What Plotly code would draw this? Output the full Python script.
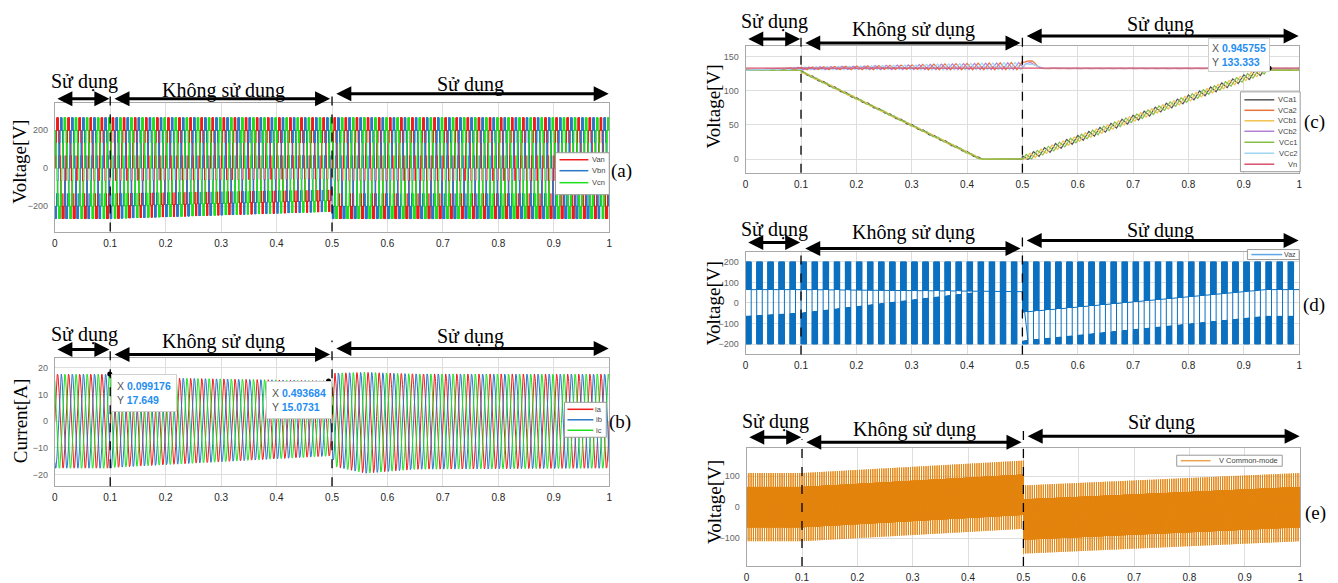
import numpy as np
import plotly.graph_objects as go

W, H = 1338, 583

# ---------------- shared data ----------------
F0 = 50.0                      # fundamental frequency [Hz]
X_TICKS = [0, 0.1, 0.2, 0.3, 0.4, 0.5, 0.6, 0.7, 0.8, 0.9, 1.0]
X_TICK_LABELS = ["0", "0.1", "0.2", "0.3", "0.4", "0.5", "0.6", "0.7", "0.8", "0.9", "1"]
SEGMENT_LABELS = ["Sử dụng", "Không sử dụng", "Sử dụng"]
BOUNDARIES = [0.1, 0.5]
PANEL_TAGS = ["(a)", "(b)", "(c)", "(d)", "(e)"]
Y_TITLES = ["Voltage[V]", "Current[A]", "Voltage[V]", "Voltage[V]", "Voltage[V]"]

# ---------------- (a) phase voltages ----------------
A_NAMES = ["Van", "Vbn", "Vcn"]
A_PHASE_DEG = [0, -120, 120]
A_T = [0.0, 0.1, 0.5, 0.5001, 1.0]
A_AMP = [235, 235, 228, 245, 235]
A_NEG_SCALE = [1.0, 1.0, 0.86, 1.0, 1.0]
A_LEVEL_STEP = 66.7
A_CARRIER_HZ = 1500
A_YTICKS = [-200, 0, 200]
A_YRANGE = [-335, 345]

# ---------------- (b) phase currents ----------------
B_NAMES = ["ia", "ib", "ic"]
B_PHASE_DEG = [0, -120, 120]
B_T = [0.0, 0.1, 0.11, 0.5, 0.505, 0.56, 0.65, 1.0]
B_TOP = [17.6, 17.6, 16.5, 15.1, 18.0, 18.3, 17.7, 17.6]
B_BOT = [-17.6, -17.6, -17.3, -13.0, -17.0, -19.5, -18.0, -17.6]
B_TIP_X = [0.099176, 0.493684]
B_TIP_Y = [17.649, 15.0731]
B_YTICKS = [-20, -10, 0, 10, 20]
B_YRANGE = [-24.3, 23.5]

# ---------------- (c) capacitor voltages ----------------
C_NAMES = ["VCa1", "VCa2", "VCb1", "VCb2", "VCc1", "VCc2", "Vn"]
C_T_LOW = [0.0, 0.1, 0.43, 0.5, 0.94, 1.0]
C_LOW_LEVEL = [130.5, 130.5, 0.0, 0.0, 130.5, 130.5]     # VCa1, VCb1, VCc1
C_T_HIGH = [0.0, 0.1, 0.5, 0.505, 0.52, 0.535, 1.0]
C_HIGH_LEVEL = [130.5, 133.0, 136.5, 139.0, 139.0, 133.0, 133.0]  # VCa2, VCb2, VCc2
C_HIGH_RIPPLE = [0.5, 2.5, 5.5, 1.0, 1.0, 0.4, 0.4]
C_BUMP = [6.0, 2.0, 0.0]          # extra rise just after 0.5 for VCa2, VCb2, VCc2
C_PHASE = [0.0, 1 / 3, 2 / 3]
C_VN = 133.3
C_TIP = [0.945755, 133.333]
C_YTICKS = [0, 50, 100, 150]
C_YRANGE = [-20, 166]

# ---------------- (d) Vaz ----------------
D_NAME = "Vaz"
D_T = [0.0, 0.1, 0.43, 0.5, 0.5001, 0.94, 1.0]
D_HI = [65, 65, 57, 55, -45, 65, 65]
D_LO = [-65, -50, 55, 55, -185, -65, -65]
D_PEAK = 200
D_YTICKS = [-200, -100, 0, 100, 200]
D_YRANGE = [-250, 250]

# ---------------- (e) common-mode voltage ----------------
E_NAME = "V Common-mode"
E_T = [0.0, 0.1, 0.5, 0.5001, 1.0]
E_OFFSET = [0, 0, 40, -40, 0]
E_CORE = 65
E_PEAK = 110
E_YTICKS = [-100, 0, 100]
E_YRANGE = [-190, 190]

# ---------------- styling / layout (pixels) ----------------
A_COLORS = ["#f01c1c", "#2a78c8", "#1ee01e"]
B_COLORS = ["#f01c1c", "#2a78c8", "#1ee01e"]
C_COLORS = ["#555555", "#e8743b", "#f2c14e", "#b47fd6", "#86be48", "#9fd6f2", "#d9506a"]
D_COLOR = "#0a70bf"
E_COLOR = "#e38510"
SERIF = "Liberation Serif"
SANS = "Liberation Sans"

FRAMES = {  # x0, x1, ytop, ybottom (pixels)
    1: (52, 609, 103, 232),
    2: (52, 609, 359, 487),
    3: (746, 1302, 46, 173),
    4: (746, 1302, 252, 355),
    5: (747, 1303, 449, 567),
}


def px(x):
    return x / W


def py(y):
    return 1 - y / H


def pyd(i, y):
    """pixel y -> 'y domain' coordinate of panel i"""
    _, _, yt, yb = FRAMES[i]
    return (yb - y) / (yb - yt)


# ---------------- build signals ----------------
t_a = np.arange(0, 1.0 + 1e-9, 1 / 20000)
amp_a = np.interp(t_a, A_T, A_AMP)
neg_a = np.interp(t_a, A_T, A_NEG_SCALE)
carrier = np.abs(((t_a * A_CARRIER_HZ) % 1.0) * 2 - 1)
A_SIG = []
for ph in A_PHASE_DEG:
    ref = amp_a * np.sin(2 * np.pi * F0 * t_a + np.radians(ph))
    q = ref / A_LEVEL_STEP
    lvl = np.floor(q)
    out = (lvl + ((q - lvl) > carrier)) * A_LEVEL_STEP
    out = np.where(out < 0, out * neg_a, out)
    A_SIG.append(out)

t_b = np.arange(0, 1.0 + 1e-9, 0.0004)
top_b = np.interp(t_b, B_T, B_TOP)
bot_b = np.interp(t_b, B_T, B_BOT)
B_SIG = [(top_b + bot_b) / 2 + (top_b - bot_b) / 2 * np.sin(2 * np.pi * F0 * t_b + np.radians(ph))
         for ph in B_PHASE_DEG]

t_c = np.arange(0, 1.0 + 1e-9, 0.0004)
P = 1 / F0
low_base = np.interp(t_c, C_T_LOW, C_LOW_LEVEL)
high_base = np.interp(t_c, C_T_HIGH, C_HIGH_LEVEL)
high_rip = np.interp(t_c, C_T_HIGH, C_HIGH_RIPPLE)
slope = C_LOW_LEVEL[1] / (C_T_LOW[2] - C_T_LOW[1])
C_SIG = {}
for i, ph in enumerate(C_PHASE):
    u = (t_c / P + ph) % 1.0
    tri = 2 * np.abs(u - 0.5) - 0.5
    g = np.minimum(u / 0.5, 1.0)
    dis = (t_c > 0.1) & (t_c < 0.43)
    chg = (t_c >= 0.5) & (t_c < 0.94)
    low = low_base.copy()
    low = np.where(dis, low + slope * P * (u - g), low)
    low = np.where(chg, low + 10 * tri, low)
    low = np.where((t_c <= 0.1) | (t_c >= 0.94), low + 1.0 * tri, low)
    low = np.maximum(low, -0.5)
    bump = C_BUMP[i] * np.exp(-((t_c - 0.512) / 0.01) ** 2)
    high = high_base + high_rip * 2 * tri + bump
    C_SIG["low%d" % i] = low
    C_SIG["high%d" % i] = high
C_ORDER = [C_SIG["low0"], C_SIG["high0"], C_SIG["low1"], C_SIG["high1"],
           C_SIG["low2"], C_SIG["high2"], np.full_like(t_c, C_VN)]

# (d) switching blocks separated by gaps (None)
dx, dy = [], []
sw = 0.00025
for k in range(int(round(1.0 * F0))):
    t0 = k * P
    tb = np.arange(t0, t0 + 0.5 * P + 1e-9, sw)
    hi = np.interp(tb, D_T, D_HI)
    lo = np.interp(tb, D_T, D_LO)
    alt = (np.arange(len(tb)) % 2) == 0
    dx += list(tb) + [None] + list(tb) + [None]
    dy += list(np.where(alt, D_PEAK, hi)) + [None] + list(np.where(alt, -D_PEAK, lo)) + [None]
for k in range(int(round(1.0 * F0))):
    t0 = k * P
    for tt, which in [(t0, "lo"), (t0 + 0.5 * P, "lo"), (t0 + 0.5 * P, "hi"), (t0 + P, "hi")]:
        dx.append(min(tt, 1.0))
        dy.append(float(np.interp(tt, D_T, D_HI if which == "hi" else D_LO)))

t_e = np.arange(0, 1.0 + 1e-9, 0.00025)
off_e = np.interp(t_e, E_T, E_OFFSET)
idx = np.arange(len(t_e))
core = np.where(idx % 2 == 0, E_CORE, -E_CORE).astype(float)
core = np.where(idx % 16 == 0, E_PEAK, core)
core = np.where(idx % 16 == 1, -E_PEAK, core)
e_sig = off_e + core

# ---------------- figure ----------------
fig = go.Figure()
for s, n, c in zip(A_SIG, A_NAMES, A_COLORS):
    fig.add_trace(go.Scatter(x=t_a, y=s, name=n, mode="lines", line=dict(color=c, width=1, simplify=False),
                             xaxis="x", yaxis="y", showlegend=False))
for s, n, c in zip(B_SIG, B_NAMES, B_COLORS):
    fig.add_trace(go.Scatter(x=t_b, y=s, name=n, mode="lines", line=dict(color=c, width=1),
                             xaxis="x2", yaxis="y2", showlegend=False))
fig.add_trace(go.Scatter(x=B_TIP_X, y=B_TIP_Y, mode="markers", marker=dict(color="black", size=5),
                         xaxis="x2", yaxis="y2", showlegend=False))
for s, n, c in zip(C_ORDER, C_NAMES, C_COLORS):
    fig.add_trace(go.Scatter(x=t_c, y=s, name=n, mode="lines", line=dict(color=c, width=1.2),
                             xaxis="x3", yaxis="y3", showlegend=False))
fig.add_trace(go.Scatter(x=[C_TIP[0]], y=[C_TIP[1]], mode="markers", marker=dict(color="black", size=5),
                         xaxis="x3", yaxis="y3", showlegend=False))
fig.add_trace(go.Scatter(x=dx, y=dy, name=D_NAME, mode="lines", line=dict(color=D_COLOR, width=1, simplify=False),
                         xaxis="x4", yaxis="y4", showlegend=False))
fig.add_trace(go.Scatter(x=t_e, y=e_sig, name=E_NAME, mode="lines", line=dict(color=E_COLOR, width=1, simplify=False),
                         xaxis="x5", yaxis="y5", showlegend=False))

YSPEC = {1: (A_YRANGE, A_YTICKS), 2: (B_YRANGE, B_YTICKS), 3: (C_YRANGE, C_YTICKS),
         4: (D_YRANGE, D_YTICKS), 5: (E_YRANGE, E_YTICKS)}
layout = dict(width=W, height=H, margin=dict(l=0, r=0, t=0, b=0), autosize=False,
              paper_bgcolor="white", plot_bgcolor="white", showlegend=False)
for i, (x0, x1, yt, yb) in FRAMES.items():
    sfx = "" if i == 1 else str(i)
    yr, yt_vals = YSPEC[i]
    layout["xaxis" + sfx] = dict(domain=[px(x0), px(x1)], anchor="y" + sfx, range=[0, 1],
                                 tickvals=X_TICKS, ticktext=X_TICK_LABELS, showgrid=True,
                                 gridcolor="#dedede", showline=True, linecolor="#a8a8a8", mirror=True,
                                 zeroline=False, ticks="", ticklabelstandoff=2,
                                 tickfont=dict(family=SANS, size=10, color="#262626"), fixedrange=True)
    layout["yaxis" + sfx] = dict(domain=[py(yb), py(yt)], anchor="x" + sfx, range=yr,
                                 tickvals=yt_vals, showgrid=True, gridcolor="#dedede", showline=True,
                                 linecolor="#a8a8a8", mirror=True, zeroline=False, ticks="",
                                 ticklabelstandoff=4,
                                 tickfont=dict(family=SANS, size=9, color="#666666"), fixedrange=True)
fig.update_layout(**layout)

annotations = []
shapes = []

# y titles and panel tags
YT_POS = {1: (17, 162), 2: (17, 422), 3: (714, 107), 4: (714, 304), 5: (714, 503)}
TAG_POS = {1: (621, 171), 2: (620, 423), 3: (1317, 122), 4: (1317, 306), 5: (1318, 514)}
for i in FRAMES:
    annotations.append(dict(text=Y_TITLES[i - 1], x=px(YT_POS[i][0]), y=py(YT_POS[i][1]), xref="paper",
                            yref="paper", textangle=-90, showarrow=False, xanchor="center", yanchor="middle",
                            font=dict(family=SERIF, size=19, color="black")))
    annotations.append(dict(text=PANEL_TAGS[i - 1], x=px(TAG_POS[i][0]), y=py(TAG_POS[i][1]), xref="paper",
                            yref="paper", showarrow=False, xanchor="center", yanchor="middle",
                            font=dict(family=SERIF, size=19, color="black")))


def tip_text(xv, yv):
    return ("X <span style='color:#1f8ef0'><b>%s</b></span><br>Y <span style='color:#1f8ef0'><b>%s</b></span>"
            % (xv, yv))


annotations.append(dict(text=tip_text("0.099176", "17.649"), x=0.1016, y=17.6, xref="x2", yref="y2",
                        xanchor="left", yanchor="top", showarrow=False, align="left",
                        bgcolor="white", bordercolor="#cfcfcf", borderwidth=1, borderpad=5,
                        font=dict(family=SANS, size=10.5, color="#555555")))
annotations.append(dict(text=tip_text("0.493684", "15.0731"), x=0.381, y=15.1, xref="x2", yref="y2",
                        xanchor="left", yanchor="top", showarrow=False, align="left",
                        bgcolor="white", bordercolor="#cfcfcf", borderwidth=1, borderpad=5,
                        font=dict(family=SANS, size=10.5, color="#555555")))
annotations.append(dict(text=tip_text("0.945755", "133.333"), x=0.836, y=py(38), xref="x3", yref="paper",
                        xanchor="left", yanchor="top", showarrow=False, align="left",
                        bgcolor="white", bordercolor="#cfcfcf", borderwidth=1, borderpad=3,
                        font=dict(family=SANS, size=10.5, color="#555555")))

# segment labels and arrows
SEG = {  # text y (left, mid, right), arrow y (left, mid, right), dashed top (0.1, 0.5)
    1: ((82, 91, 85), (99, 99, 94), (93, 88)),
    2: ((335, 342, 337), (350, 355, 349), (342, 341)),
    3: ((22, 30, 25), (39, 43, 36), (32, 30)),
    4: ((230, 233, 231), (243, 249, 241), (248, 238)),
    5: ((422, 430, 423), (438, 443, 437), (440, 430)),
}
TEXT_X = [0.053, 0.304, 0.75]
ARROW_X = [(0.002, 0.0985), (0.105, 0.4965), (0.505, 0.999)]
for i, (ty, ay, dtop) in SEG.items():
    sfx = "" if i == 1 else str(i)
    xr = "x" + sfx
    ydr = "y" + sfx + " domain"
    for k in range(3):
        annotations.append(dict(text=SEGMENT_LABELS[k], x=TEXT_X[k], y=py(ty[k]), xref=xr, yref="paper",
                                showarrow=False, xanchor="center", yanchor="middle",
                                font=dict(family=SERIF, size=20, color="black")))
        annotations.append(dict(text="", x=ARROW_X[k][1], y=pyd(i, ay[k]), ax=ARROW_X[k][0],
                                ay=pyd(i, ay[k]), xref=xr, axref=xr, yref=ydr, ayref=ydr, showarrow=True,
                                arrowhead=2, startarrowhead=2, arrowside="end+start", arrowwidth=3,
                                arrowsize=1, startarrowsize=1, arrowcolor="black", standoff=0,
                                startstandoff=0))
    yb = FRAMES[i][3]
    for bx, top in zip(BOUNDARIES, dtop):
        shapes.append(dict(type="line", xref=xr, yref="paper", x0=bx, x1=bx, y0=py(yb), y1=py(top),
                           line=dict(color="black", width=1.3, dash="dash"), layer="above"))

# legends (drawn as boxes with line swatches)
LEGENDS = [  # box x0, x1, y0, y1, line x0, x1, text right x, entry ys, names, colors, font size
    (555, 609, 153, 195, 559, 588, 606, [160, 171, 183], A_NAMES, A_COLORS, 7.5),
    (564, 606, 403, 438, 567, 593, 603, [410, 420.5, 431], B_NAMES, B_COLORS, 7.5),
    (1243, 1303, 92, 172, 1247, 1277, 1301, [100, 110.5, 121, 131.5, 142.5, 153.5, 164.5], C_NAMES,
     C_COLORS, 7.5),
    (1250, 1302, 250, 260, 1254, 1285, 1300, [255], [D_NAME], ["#5aa6e6"], 7),
    (1179, 1285, 456, 467, 1183, 1213, 1282, [461.5], [E_NAME], ["#eba550"], 7.5),
]
for bx0, bx1, by0, by1, lx0, lx1, tx, ys, names, cols, fs in LEGENDS:
    shapes.append(dict(type="rect", xref="paper", yref="paper", x0=px(bx0), x1=px(bx1), y0=py(by1), y1=py(by0),
                       fillcolor="white", line=dict(color="#9a9a9a", width=1), layer="above"))
    for yy, nm, cc in zip(ys, names, cols):
        shapes.append(dict(type="line", xref="paper", yref="paper", x0=px(lx0), x1=px(lx1), y0=py(yy), y1=py(yy),
                           line=dict(color=cc, width=1.5), layer="above"))
        annotations.append(dict(text=nm, x=px(tx), y=py(yy), xref="paper", yref="paper", xanchor="right",
                                yanchor="middle", showarrow=False, borderpad=0,
                                font=dict(family=SANS, size=fs, color="#444444")))

fig.update_layout(annotations=annotations, shapes=shapes)
fig.write_html("out.html", config={"displayModeBar": False, "staticPlot": True},
               post_script="document.body.style.margin='0px';document.body.style.overflow='hidden';")
